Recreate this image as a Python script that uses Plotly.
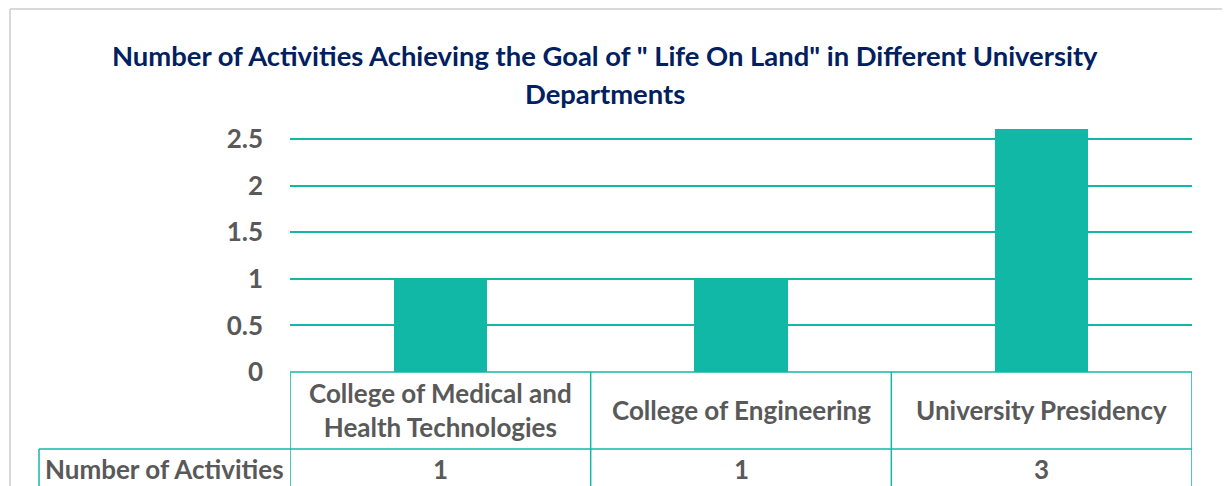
import plotly.graph_objects as go

# ---- data ----
categories = ["College of Medical and<br>Health Technologies", "College of Engineering", "University Presidency"]
activities = [1, 1, 3]
series_name = "Number of Activities"
y_ticks = [0, 0.5, 1, 1.5, 2, 2.5]
y_tick_labels = ["0", "0.5", "1", "1.5", "2", "2.5"]
title_lines = ['Number of Activities Achieving the Goal of " Life On Land" in Different University', "Departments"]

# ---- style ----
TEAL = "#12B8A6"
GRAY = "#595959"
NAVY = "#002060"
FONT = "Lato"
OFF = 8  # page body margin
W, H = 1230 - OFF, 486 - OFF
# plot area in screenshot pixels
L, R, T, B = 290, 1192, 129, 372


def px(x):
    return (x - L) / (R - L)


def py(y):
    return (B - y) / (B - T)


xs = list(range(len(categories)))

fig = go.Figure()
fig.add_trace(go.Bar(x=xs, y=activities, width=0.31, marker=dict(color=TEAL, line=dict(width=0)),
                     name=series_name, showlegend=False))

shapes = []
# outer chart frame (light gray)
shapes.append(dict(type="line", xref="paper", yref="paper", x0=px(10), x1=px(1240), y0=py(9), y1=py(9),
                   line=dict(color="#D9D9D9", width=2)))
shapes.append(dict(type="line", xref="paper", yref="paper", x0=px(10), x1=px(10), y0=py(9), y1=py(490),
                   line=dict(color="#D9D9D9", width=2)))

# data table
row1_bottom = 449
table_bottom = 492
tl = dict(color=TEAL, width=1.5)
shapes.append(dict(type="line", xref="paper", yref="paper", x0=px(L), x1=1, y0=0, y1=0, line=tl))
shapes.append(dict(type="line", xref="paper", yref="paper", x0=px(39), x1=1, y0=py(row1_bottom), y1=py(row1_bottom), line=tl))
shapes.append(dict(type="line", xref="paper", yref="paper", x0=px(39), x1=px(39), y0=py(row1_bottom), y1=py(table_bottom), line=tl))
for i in range(len(categories) + 1):
    xb = i - 0.5
    shapes.append(dict(type="line", xref="x", yref="paper", x0=xb, x1=xb, y0=0, y1=py(table_bottom), line=tl))

TXT = 26
annotations = []
for i, c in enumerate(categories):
    annotations.append(dict(x=i, y=py(410), xref="x", yref="paper", text=c, showarrow=False,
                            font=dict(family=FONT, size=TXT, color=GRAY, weight="bold"),
                            xanchor="center", yanchor="middle"))
    annotations.append(dict(x=i, y=py(469), xref="x", yref="paper", text=str(activities[i]), showarrow=False,
                            font=dict(family=FONT, size=TXT, color=GRAY, weight="bold"),
                            xanchor="center", yanchor="middle"))
annotations.append(dict(x=px(164), y=py(469), xref="paper", yref="paper", text=series_name, showarrow=False,
                        font=dict(family=FONT, size=TXT, color=GRAY, weight="bold"),
                        xanchor="center", yanchor="middle"))
for line_txt, yy in zip(title_lines, [55.5, 93.5]):
    annotations.append(dict(x=px(605), y=py(yy), xref="paper", yref="paper", text=line_txt, showarrow=False,
                            font=dict(family=FONT, size=27.4, color=NAVY, weight="bold"),
                            xanchor="center", yanchor="middle"))

fig.update_layout(
    width=W, height=H,
    margin=dict(l=L - OFF, r=W - (R - OFF), t=T - OFF, b=H - (B - OFF), pad=0),
    paper_bgcolor="white", plot_bgcolor="white",
    bargap=0,
    xaxis=dict(range=[-0.5, len(categories) - 0.5], showticklabels=False, showgrid=False,
               zeroline=False, showline=False, tickvals=xs),
    yaxis=dict(range=[0, 2.61], tickvals=y_ticks, ticktext=y_tick_labels, showgrid=True,
               gridcolor=TEAL, gridwidth=1.5, zeroline=False, showline=False,
               tickfont=dict(family=FONT, size=TXT, color=GRAY, weight="bold"),
               ticklabelstandoff=26),
    shapes=shapes,
    annotations=annotations,
)

fig.write_html("out.html")
